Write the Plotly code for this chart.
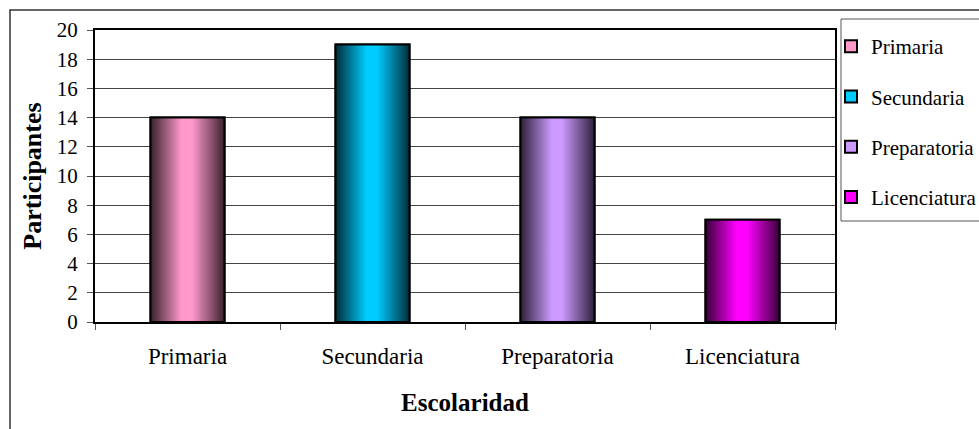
import plotly.graph_objects as go

# Participants by schooling level
categories = ["Primaria", "Secundaria", "Preparatoria", "Licenciatura"]
participants = [14, 19, 14, 7]
base_colors = ["#FF99CC", "#00CCFF", "#CC99FF", "#FF00FF"]
y_ticks = [0, 2, 4, 6, 8, 10, 12, 14, 16, 18, 20]

BAR_WIDTH = 0.4
FONT = "Liberation Serif"

# plot-area geometry in pixels (used for paper-coordinate shapes)
W, H = 979, 429
ML, MR, MT, MB = 95, 144, 30, 107
PW, PH = W - ML - MR, H - MT - MB


def px_x(x):
    return (x - ML) / PW


def px_y(y):
    return (H - MB - y) / PH


def shade(hex_color, f):
    h = hex_color.lstrip("#")
    r, g, b = (int(h[i:i + 2], 16) for i in (0, 2, 4))
    return f"rgb({int(r * f)},{int(g * f)},{int(b * f)})"


def cylinder_scale(hex_color):
    return [
        [0.0, shade(hex_color, 0.22)],
        [0.18, shade(hex_color, 0.55)],
        [0.42, shade(hex_color, 1.0)],
        [0.56, shade(hex_color, 1.0)],
        [0.82, shade(hex_color, 0.55)],
        [1.0, shade(hex_color, 0.22)],
    ]


fig = go.Figure()

# plain bars: carry the data and the legend entries
for i, (cat, val, col) in enumerate(zip(categories, participants, base_colors)):
    fig.add_trace(go.Bar(
        x=[cat], y=[val], name=cat, width=BAR_WIDTH,
        marker=dict(color=col, line=dict(color="black", width=2)),
        legendgroup=cat, hoverinfo="x+y",
    ))

# shaded overlay for each bar, on a hidden numeric axis aligned with the categories
for i, (cat, val, col) in enumerate(zip(categories, participants, base_colors)):
    x0, x1 = i - BAR_WIDTH / 2, i + BAR_WIDTH / 2
    fig.add_trace(go.Scatter(
        x=[x0, x0, x1, x1, x0], y=[0, val, val, 0, 0],
        xaxis="x2", mode="lines", fill="toself",
        fillgradient=dict(type="horizontal", colorscale=cylinder_scale(col)),
        line=dict(color="black", width=2),
        showlegend=False, hoverinfo="skip",
    ))

fig.update_layout(
    width=W, height=H,
    margin=dict(l=ML, r=MR, t=MT, b=MB, autoexpand=False),
    paper_bgcolor="white", plot_bgcolor="white",
    font=dict(family=FONT, color="black", size=20),
    barmode="overlay",
    showlegend=True,
    legend=dict(
        x=px_x(831), y=px_y(26), xanchor="left", yanchor="top",
        font=dict(size=21, family=FONT, color="black"),
        traceorder="grouped", tracegroupgap=20,
        bgcolor="rgba(0,0,0,0)", borderwidth=0,
    ),
    xaxis=dict(
        type="category", categoryorder="array", categoryarray=categories,
        tickson="boundaries", ticks="outside", ticklen=6, tickcolor="#555",
        tickfont=dict(size=23, family=FONT, color="black"), ticklabelstandoff=12,
        showline=True, linewidth=2, linecolor="black", mirror=True,
        showgrid=False, zeroline=False,
        title=dict(text="<b>Escolaridad</b>", font=dict(size=25, family=FONT, color="black"),
                   standoff=26),
    ),
    xaxis2=dict(
        overlaying="x", range=[-0.5, len(categories) - 0.5],
        visible=False, showgrid=False, zeroline=False,
    ),
    yaxis=dict(
        range=[0, 20], tickvals=y_ticks, ticks="outside", ticklen=6, tickcolor="#555",
        tickfont=dict(size=21, family=FONT, color="black"), ticklabelstandoff=5,
        showline=True, linewidth=2, linecolor="black", mirror=True,
        showgrid=True, gridcolor="#444", gridwidth=1, zeroline=False,
        title=dict(text="<b>Participantes</b>", font=dict(size=26, family=FONT, color="black"),
                   standoff=8),
    ),
    shapes=[
        # outer chart frame
        dict(type="rect", xref="paper", yref="paper",
             x0=px_x(10), x1=px_x(995), y0=px_y(445), y1=px_y(10),
             line=dict(color="#333", width=1.5), fillcolor="rgba(0,0,0,0)", layer="below"),
        # legend frame
        dict(type="rect", xref="paper", yref="paper",
             x0=px_x(841), x1=px_x(995), y0=px_y(221), y1=px_y(19),
             line=dict(color="#555", width=1), fillcolor="rgba(0,0,0,0)"),
    ],
)

fig.write_html("out.html")
